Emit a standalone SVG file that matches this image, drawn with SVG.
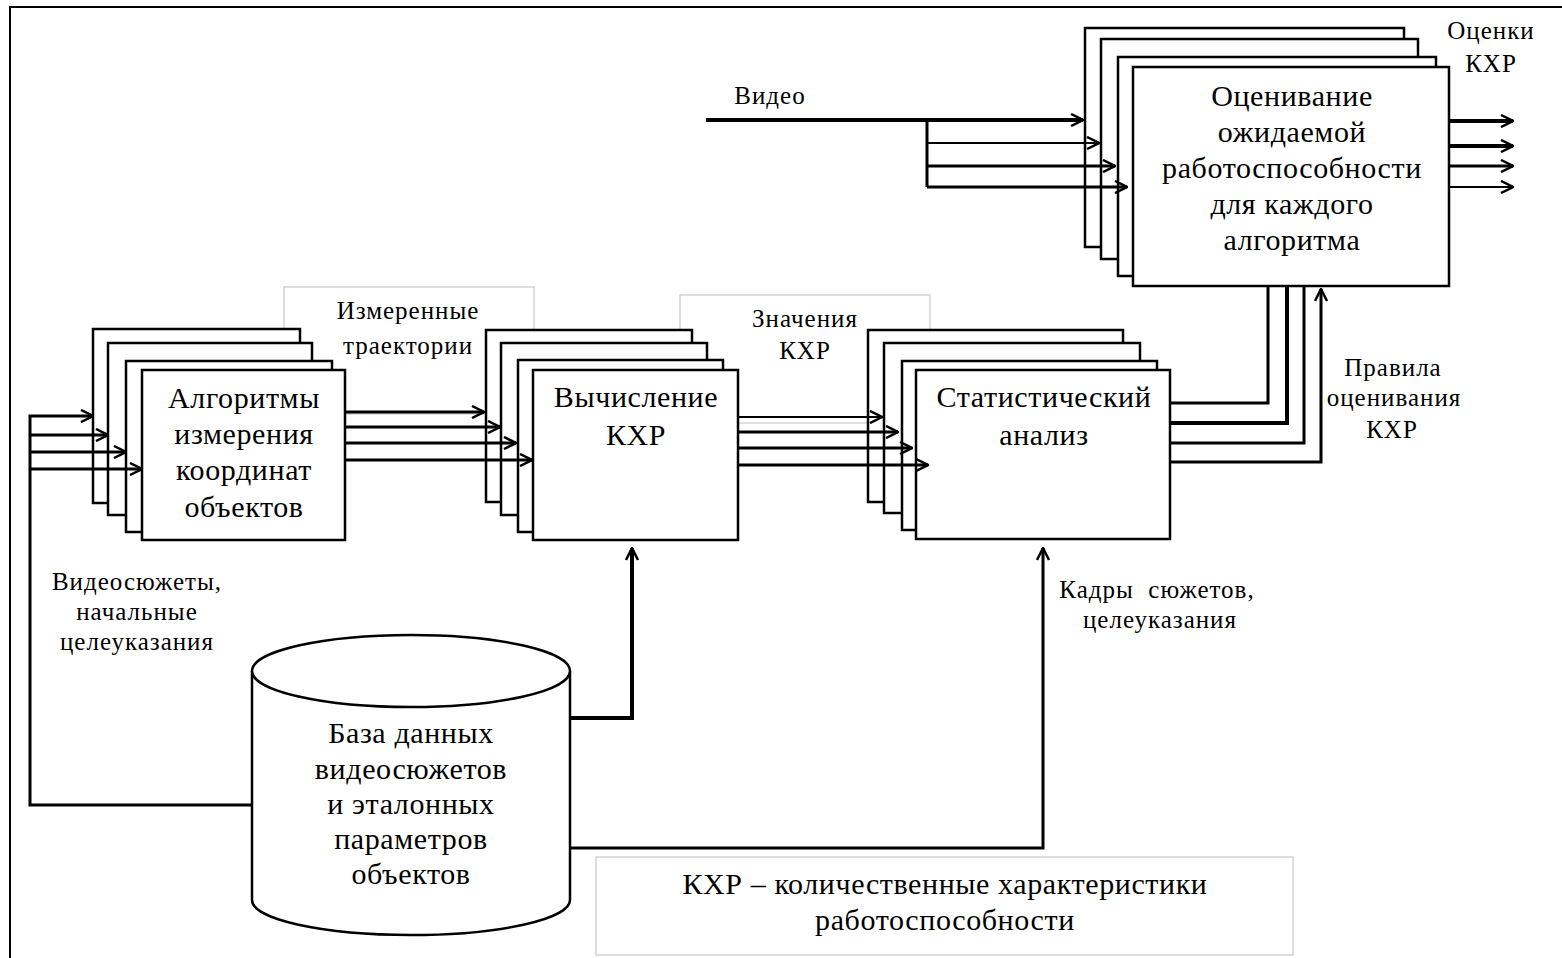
<svg xmlns="http://www.w3.org/2000/svg" width="1562" height="958" viewBox="0 0 1562 958">
<style>
text{font-family:"Liberation Serif","Times New Roman",serif;fill:#000;text-anchor:middle}
.big{font-size:30px;letter-spacing:0.6px}
.sm{font-size:25px;letter-spacing:1px}
.blk{fill:#fff;stroke:#000;stroke-width:2.5}
.lbl{fill:#fff;stroke:#c8c8c8;stroke-width:1.2}
.c{fill:none;stroke:#000;stroke-width:3}
.t{stroke-width:4}
.n{stroke-width:2}
</style>
<defs>
<marker id="arr" viewBox="0 0 14 14" refX="13" refY="7" markerWidth="14" markerHeight="14" markerUnits="userSpaceOnUse" orient="auto">
<path d="M1,1 L13,7 L1,13" fill="none" stroke="#000" stroke-width="2.5"/>
</marker>
</defs>
<rect width="1562" height="958" fill="#fff"/>
<g id="frame" fill="none" stroke="#000" stroke-width="2">
<path d="M10,958 V7 H1562"/>
</g>
<g id="label-boxes">
<rect class="lbl" x="284" y="287" width="250" height="127"/>
<rect class="lbl" x="680" y="295" width="250" height="128"/>
</g>
<g id="node-algorithms">
<rect class="blk" x="93" y="329" width="207" height="174"/>
<rect class="blk" x="108" y="343" width="204" height="172"/>
<rect class="blk" x="126" y="361" width="206" height="171"/>
<rect class="blk" x="142" y="370" width="203" height="170"/>
<text class="big" x="244" y="408">Алгоритмы</text>
<text class="big" x="244" y="444">измерения</text>
<text class="big" x="244" y="480">координат</text>
<text class="big" x="244" y="517">объектов</text>
</g>
<g id="node-compute">
<rect class="blk" x="486" y="330" width="206" height="172"/>
<rect class="blk" x="501" y="343" width="206" height="172"/>
<rect class="blk" x="518" y="360" width="205" height="172"/>
<rect class="blk" x="533" y="370" width="205" height="170"/>
<text class="big" x="636" y="407">Вычисление</text>
<text class="big" x="636" y="445">КХР</text>
</g>
<g id="node-stat">
<rect class="blk" x="868" y="330" width="255" height="172"/>
<rect class="blk" x="884" y="343" width="256" height="170"/>
<rect class="blk" x="902" y="361" width="255" height="169"/>
<rect class="blk" x="916" y="370" width="254" height="169"/>
<text class="big" x="1044" y="407">Статистический</text>
<text class="big" x="1044" y="445">анализ</text>
</g>
<g id="node-estimate">
<rect class="blk" x="1085" y="28" width="319" height="219"/>
<rect class="blk" x="1101" y="39" width="317" height="220"/>
<rect class="blk" x="1118" y="57" width="318" height="219"/>
<rect class="blk" x="1133" y="67" width="316" height="219"/>
<text class="big" x="1292" y="106">Оценивание</text>
<text class="big" x="1292" y="142">ожидаемой</text>
<text class="big" x="1292" y="178">работоспособности</text>
<text class="big" x="1292" y="214">для каждого</text>
<text class="big" x="1292" y="250">алгоритма</text>
</g>
<g id="node-database">
<path class="blk" d="M252,671 V900 A159,35 0 0 0 570,900 V671"/>
<ellipse class="blk" cx="411" cy="671" rx="159" ry="36"/>
<text class="big" x="411" y="743">База данных</text>
<text class="big" x="411" y="779">видеосюжетов</text>
<text class="big" x="411" y="814">и эталонных</text>
<text class="big" x="411" y="849">параметров</text>
<text class="big" x="411" y="884">объектов</text>
</g>
<g id="node-legend">
<rect class="lbl" x="596" y="857" width="697" height="98"/>
<text class="big" x="945" y="894">КХР – количественные характеристики</text>
<text class="big" x="945" y="930">работоспособности</text>
</g>
<g id="connectors">
<path class="c" d="M252,805 H30 V416 H93" marker-end="url(#arr)"/>
<path class="c" d="M30,435 H108" marker-end="url(#arr)"/>
<path class="c" d="M30,452 H126" marker-end="url(#arr)"/>
<path class="c" d="M30,469 H142" marker-end="url(#arr)"/>
<path class="c" d="M345,412 H484" marker-end="url(#arr)"/>
<path class="c" d="M345,427 H500" marker-end="url(#arr)"/>
<path class="c" d="M345,443 H516" marker-end="url(#arr)"/>
<path class="c" d="M345,460 H532" marker-end="url(#arr)"/>
<path class="c n" d="M738,417 H882" marker-end="url(#arr)"/>
<path class="c" d="M738,432 H898" marker-end="url(#arr)"/>
<path class="c" d="M738,448 H912" marker-end="url(#arr)"/>
<path class="c" d="M738,465 H928" marker-end="url(#arr)"/>
<path class="c t" d="M706,120 H1083" marker-end="url(#arr)"/>
<path class="c" d="M927,120 V187"/>
<path class="c n" d="M927,143 H1099" marker-end="url(#arr)"/>
<path class="c" d="M927,166 H1115" marker-end="url(#arr)"/>
<path class="c" d="M927,187 H1127" marker-end="url(#arr)"/>
<path class="c t" d="M1449,121 H1513" marker-end="url(#arr)"/>
<path class="c t" d="M1449,146 H1513" marker-end="url(#arr)"/>
<path class="c" d="M1449,166 H1513" marker-end="url(#arr)"/>
<path class="c n" d="M1449,187 H1513" marker-end="url(#arr)"/>
<path class="c" d="M1170,403 H1268 V286"/>
<path class="c t" d="M1170,423 H1287 V286"/>
<path class="c" d="M1170,443 H1304 V286"/>
<path class="c" d="M1170,462 H1321 V289" marker-end="url(#arr)"/>
<path class="c t" d="M570,718 H632 V548" marker-end="url(#arr)"/>
<path class="c" d="M570,848 H1043 V548" marker-end="url(#arr)"/>
</g>
<g id="labels">
<text class="sm" x="770" y="104">Видео</text>
<text class="sm" x="1491" y="39">Оценки</text>
<text class="sm" x="1491" y="72">КХР</text>
<text class="sm" x="408" y="319">Измеренные</text>
<text class="sm" x="408" y="354">траектории</text>
<text class="sm" x="805" y="327">Значения</text>
<text class="sm" x="805" y="359">КХР</text>
<text class="sm" x="1393" y="376">Правила</text>
<text class="sm" x="1394" y="406">оценивания</text>
<text class="sm" x="1392" y="438">КХР</text>
<text class="sm" x="137" y="590">Видеосюжеты,</text>
<text class="sm" x="137" y="620">начальные</text>
<text class="sm" x="137" y="650">целеуказания</text>
<text class="sm" x="1157" y="598" xml:space="preserve">Кадры  сюжетов,</text>
<text class="sm" x="1160" y="628">целеуказания</text>
</g>
</svg>
